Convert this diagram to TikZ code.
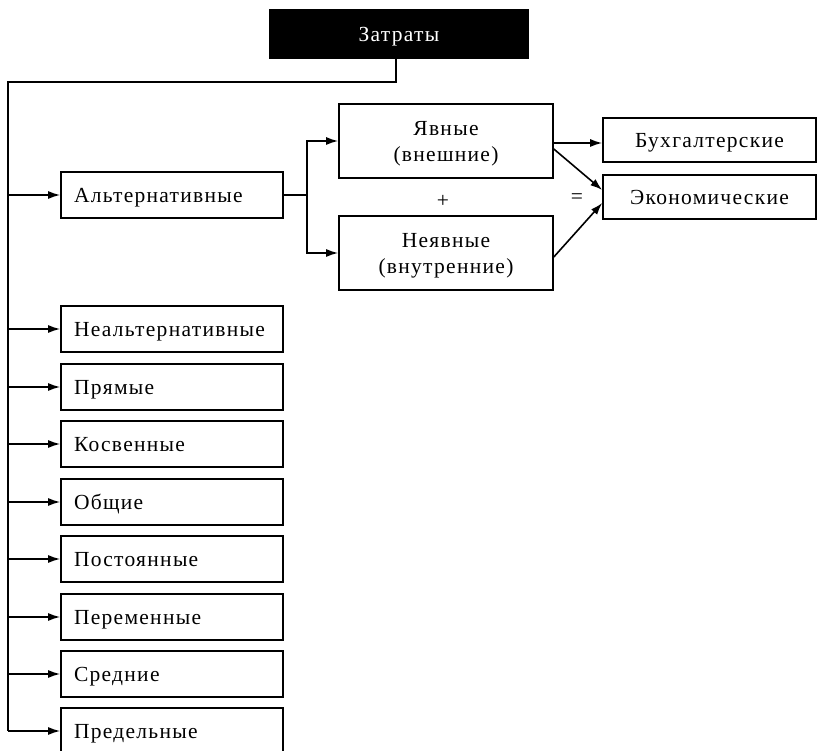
\documentclass[tikz,border=0pt]{standalone}
\usepackage{fontspec}
\setmainfont[LetterSpace=6]{Liberation Serif}
\usetikzlibrary{arrows.meta}
\begin{document}
\begin{tikzpicture}[x=1pt,y=-1pt,
  every node/.style={font=\fontsize{21.5}{26}\selectfont},
  box/.style={draw, line width=1.6pt, inner sep=0pt, text depth=0pt},
  listbox/.style={box, text width=196pt, inner xsep=13pt, align=left, minimum height=46pt},
  twobox/.style={box, minimum width=214pt, minimum height=74pt, align=center},
  rbox/.style={box, minimum width=213pt, minimum height=44pt},
  line/.style={line width=1.6pt},
  arr/.style={line, -{Latex[length=12pt,width=8pt]}}]
\useasboundingbox (0,0) rectangle (817,751);

\node[box, fill=black, text=white, minimum width=258pt, minimum height=48pt] (Z) at (399,34) {Затраты};

\node[listbox] (alt) at (172,195) {Альтернативные};
\node[twobox] (yav) at (446,141) {Явные\\(внешние)};
\node[twobox] (nyav) at (446,253) {Неявные\\(внутренние)};
\node[rbox] (bux) at (709.5,140) {Бухгалтерские};
\node[rbox] (eko) at (709.5,197) {Экономические};
\node (plus) at (443,201) {+};
\node (eq) at (577,199) {=};

\node[listbox] (l1) at (172,329) {Неальтернативные};
\node[listbox] (l2) at (172,387) {Прямые};
\node[listbox] (l3) at (172,444) {Косвенные};
\node[listbox] (l4) at (172,502) {Общие};
\node[listbox] (l5) at (172,559) {Постоянные};
\node[listbox] (l6) at (172,617) {Переменные};
\node[listbox] (l7) at (172,674) {Средние};
\node[listbox] (l8) at (172,731) {Предельные};

\coordinate (t0) at (8,82);
\coordinate (t1) at (8,731);
\coordinate (zb) at (396,58);
\draw[line] (zb) |- (t0) -- (t1);
\foreach \n in {alt,l1,l2,l3,l4,l5,l6,l7,l8}
  \draw[arr] (\n.west -| t0) -- (\n.west);

\coordinate (j) at (307,195);
\draw[line] (alt.east) -- (j);
\draw[arr] (j) |- (yav.west);
\draw[arr] (j) |- (nyav.west);

\draw[arr] ([yshift=-2pt]yav.east) -- ([yshift=-2pt]yav.east -| bux.west);
\draw[arr] ([yshift=-8pt]yav.east) -- ([yshift=7pt]eko.west);
\draw[arr] ([yshift=-4pt]nyav.east) -- ([yshift=-6pt]eko.west);
\end{tikzpicture}
\end{document}
